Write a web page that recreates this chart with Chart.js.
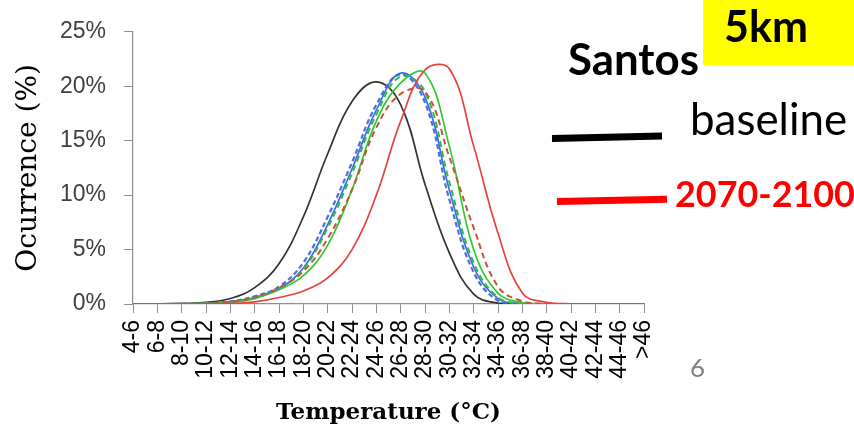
<!DOCTYPE html>
<html>
<head>
<meta charset="utf-8">
<script src="https://cdn.jsdelivr.net/npm/chart.js@4.4.1/dist/chart.umd.min.js"></script>
<style>
html, body { margin: 0; padding: 0; background: #fff; }
#wrap { width: 854px; height: 429px; position: relative; }
</style>
</head>
<body>
<div id="wrap"><canvas id="ocurrence"></canvas></div>
<script>
// temperature classes (°C)
var classes = ['4-6', '6-8', '8-10', '10-12', '12-14', '14-16', '16-18', '18-20', '20-22', '22-24', '24-26',
	'26-28', '28-30', '30-32', '32-34', '34-36', '36-38', '38-40', '40-42', '42-44', '44-46', '>46'];

// occurrence (%)
var baseline   = [0, 0, 0.05, 0.15, 0.5, 1.5, 3.7, 8.0, 13.8, 18.6, 20.4, 18.3, 11.0, 4.7, 0.9, 0.08, 0, 0, 0, 0, 0, 0];
var blueDash   = [0, 0, 0, 0.05, 0.25, 0.7, 1.6, 3.8, 8.0, 13.0, 18.3, 21.1, 18.5, 9.6, 2.9, 0.3, 0.02, 0, 0, 0, 0, 0];
var blueLine   = [0, 0, 0, 0.05, 0.2, 0.6, 1.4, 3.3, 7.3, 12.4, 17.8, 21.2, 19.0, 10.5, 3.4, 0.5, 0.03, 0, 0, 0, 0, 0];
var greenDash  = [0, 0, 0, 0.05, 0.2, 0.6, 1.4, 3.2, 7.0, 12.0, 17.4, 20.9, 19.5, 11.2, 3.8, 0.6, 0.05, 0, 0, 0, 0, 0];
var greenLine  = [0, 0, 0, 0.05, 0.15, 0.5, 1.3, 2.6, 5.4, 10.5, 16.8, 20.3, 21.2, 14.5, 5.0, 1.0, 0.12, 0, 0, 0, 0, 0];
var redDash    = [0, 0, 0, 0.05, 0.2, 0.6, 1.5, 3.0, 6.0, 10.5, 16.2, 19.3, 19.5, 13.5, 7.0, 1.6, 0.25, 0.02, 0, 0, 0, 0];
var future     = [0, 0, 0, 0, 0.05, 0.2, 0.6, 1.2, 2.4, 5.0, 10.0, 16.8, 21.5, 21.6, 14.5, 6.5, 1.0, 0.15, 0.02, 0, 0, 0];

var yTicks = [0, 5, 10, 15, 20, 25];

function serie(data, color, width, dash) {
	return {
		data : data,
		borderColor : color,
		borderWidth : width,
		borderDash : dash || [],
		pointRadius : 0,
		tension : 0.4,
		fill : false
	};
}

function write(ctx, txt, x, y, width, weight, color) {
	ctx.font = weight + ' 40px Lato';
	var size = 40 * width / ctx.measureText(txt).width;
	ctx.font = weight + ' ' + size.toFixed(1) + 'px Lato';
	ctx.fillStyle = color;
	ctx.textAlign = 'left';
	ctx.textBaseline = 'alphabetic';
	ctx.fillText(txt, x, y);
}

function stroke(ctx, x1, y1, x2, y2, color) {
	ctx.beginPath();
	ctx.moveTo(x1, y1);
	ctx.lineTo(x2, y2);
	ctx.lineWidth = 7;
	ctx.strokeStyle = color;
	ctx.stroke();
}

// slide texts around the chart
var notes = {
	id : 'notes',
	afterDraw : function(chart) {
		var ctx = chart.ctx;
		ctx.save();
		ctx.fillStyle = '#ffff00';
		ctx.fillRect(703, 0, 151, 65);
		write(ctx, '5km', 724, 42, 84, 'bold', '#000');
		write(ctx, 'Santos', 568, 75, 131, 'bold', '#000');
		write(ctx, 'baseline', 690, 135, 157, 'normal', '#000');
		write(ctx, '2070-2100', 675, 207, 180, 'bold', '#ff0000');
		write(ctx, '6', 690, 377, 15, 'normal', '#808080');
		stroke(ctx, 552, 138.5, 662, 136, '#000');
		stroke(ctx, 557, 201.5, 667, 199.3, '#ff0000');
		ctx.restore();
	}
};

var ctx = document.getElementById('ocurrence').getContext('2d');
var chart = new Chart(ctx, {
	type : 'line',
	data : {
		labels : classes,
		datasets : [
			serie(future, '#e8423f', 1.7),
			serie(redDash, '#c0563c', 2, [6, 4]),
			serie(greenLine, '#33c833', 1.7),
			serie(greenDash, '#2fb84a', 2, [6, 4]),
			serie(blueLine, '#3d6ee0', 1.7),
			serie(blueDash, '#4a6fe3', 2.2, [5, 3]),
			serie(baseline, '#333333', 1.7)
		]
	},
	options : {
		responsive : true,
		maintainAspectRatio : false,
		animation : false,
		devicePixelRatio : 1,
		layout : { padding : { top : 23, right : 210, left : 0, bottom : 0 } },
		plugins : { legend : { display : false }, tooltip : { enabled : false } },
		scales : {
			x : {
				offset : false,
				afterFit : function(s) { s.height = 125; },
				border : { color : '#8e8e8e', width : 1.2 },
				grid : { drawOnChartArea : false, tickLength : 9, color : '#8e8e8e' },
				ticks : {
					autoSkip : false, minRotation : 90, maxRotation : 90, padding : 7,
					color : '#000', font : { family : 'Liberation Sans', size : 23 }
				},
				title : {
					display : true, text : 'Temperature (°C)', color : '#000',
					font : { family : 'DejaVu Serif', size : 23, weight : 'bold' },
					padding : { top : 0, bottom : 2 }
				}
			},
			y : {
				min : 0,
				max : 25,
				afterFit : function(s) { s.width = 133; },
				afterBuildTicks : function(s) { s.ticks = yTicks.map(function(v) { return { value : v }; }); },
				border : { color : '#8e8e8e', width : 1.2 },
				grid : { drawOnChartArea : false, tickLength : 9, color : '#8e8e8e' },
				ticks : {
					padding : 18, color : '#404040',
					font : { family : 'Liberation Sans', size : 23 },
					callback : function(v) { return v + '%'; }
				},
				title : {
					display : true, text : 'Ocurrence (%)', color : '#000',
					font : { family : 'DejaVu Serif', size : 28 },
					padding : { top : 12, bottom : 0 }
				}
			}
		}
	},
	plugins : [ notes ]
});
</script>
</body>
</html>
